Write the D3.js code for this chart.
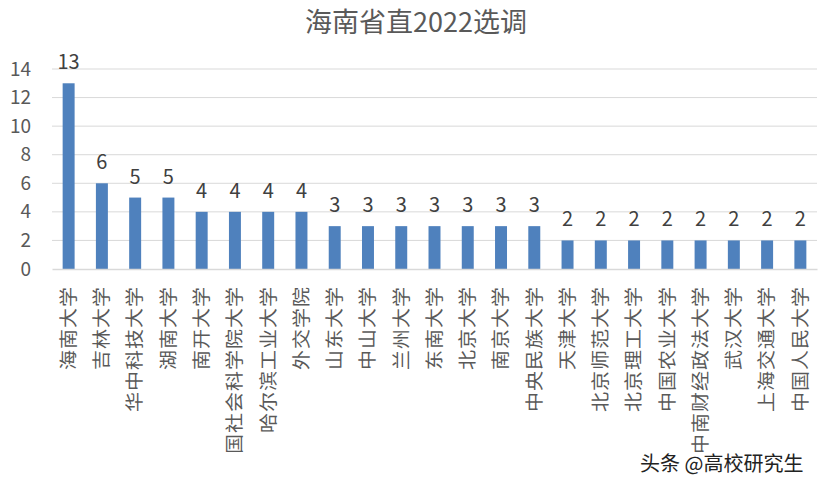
<!DOCTYPE html>
<html><head><meta charset="utf-8">
<script src="https://cdn.jsdelivr.net/npm/d3@7"></script>
<style>body{margin:0;background:#fff}svg{display:block}</style>
</head><body>
<script>
const categories = ["海南大学","吉林大学","华中科技大学","湖南大学","南开大学","中国社会科学院大学","哈尔滨工业大学","外交学院","山东大学","中山大学","兰州大学","东南大学","北京大学","南京大学","中央民族大学","天津大学","北京师范大学","北京理工大学","中国农业大学","中南财经政法大学","武汉大学","上海交通大学","中国人民大学"];
const values = [13,6,5,5,4,4,4,4,3,3,3,3,3,3,3,2,2,2,2,2,2,2,2];
const yTicks = [0,2,4,6,8,10,12,14];
const title = "海南省直2022选调";
const watermark = "头条 @高校研究生";

const W = 822, H = 487;
const font = "'Noto Sans CJK SC','Noto Sans',sans-serif";
const svg = d3.select("body").append("svg").attr("width", W).attr("height", H);

const x = d3.scaleBand().domain(categories).range([52, 817]).paddingInner(0.64).paddingOuter(0.32);
const y = d3.scaleLinear().domain([0, 14]).range([269, 69]);

svg.append("text").attr("x", 416).attr("y", 32).attr("text-anchor", "middle")
  .attr("font-family", font).attr("font-size", 27).attr("fill", "#595959").text(title);

// gridlines
svg.append("g").selectAll("line").data(yTicks.filter(d => d > 0)).join("line")
  .attr("x1", 52).attr("x2", 817).attr("y1", d => y(d)).attr("y2", d => y(d))
  .attr("stroke", "#d9d9d9").attr("stroke-width", 1);

// y axis labels
const ya = svg.append("g").attr("transform", "translate(52,0)")
  .call(d3.axisLeft(y).tickValues(yTicks).tickSize(0).tickPadding(21));
ya.select(".domain").remove();
ya.selectAll("text").attr("font-family", font).attr("font-size", 19).attr("fill", "#595959");

// bars
svg.append("g").selectAll("rect").data(values).join("rect")
  .attr("x", (d, i) => x(categories[i])).attr("width", x.bandwidth())
  .attr("y", d => y(d)).attr("height", d => y(0) - y(d)).attr("fill", "#4f81bd");

// data labels
svg.append("g").selectAll("text").data(values).join("text")
  .attr("x", (d, i) => x(categories[i]) + x.bandwidth() / 2).attr("y", d => y(d) - 14)
  .attr("text-anchor", "middle").attr("font-family", font).attr("font-size", 20)
  .attr("fill", "#404040").text(d => d);

// x axis
svg.append("clipPath").attr("id", "clipx").append("rect").attr("x", -10).attr("y", -3).attr("width", W + 20).attr("height", 186);
const xa = svg.append("g").attr("transform", "translate(0,269)").attr("clip-path", "url(#clipx)")
  .call(d3.axisBottom(x).tickSize(0));
xa.select(".domain").attr("stroke", "#d9d9d9").attr("stroke-width", 1.5);
xa.selectAll("text").attr("font-family", font).attr("font-size", 20).attr("fill", "#595959")
  .attr("letter-spacing", 1)
  .attr("transform", "rotate(-90) scale(1,0.9)").attr("text-anchor", "end").attr("dy", "0.35em")
  .attr("x", -17).attr("y", 0);

// watermark
svg.append("text").attr("x", 640).attr("y", 471).attr("font-family", font).attr("font-size", 20)
  .attr("fill", "#222").attr("stroke", "#fff").attr("stroke-width", 3).attr("paint-order", "stroke")
  .text(watermark);
</script>
</body></html>
